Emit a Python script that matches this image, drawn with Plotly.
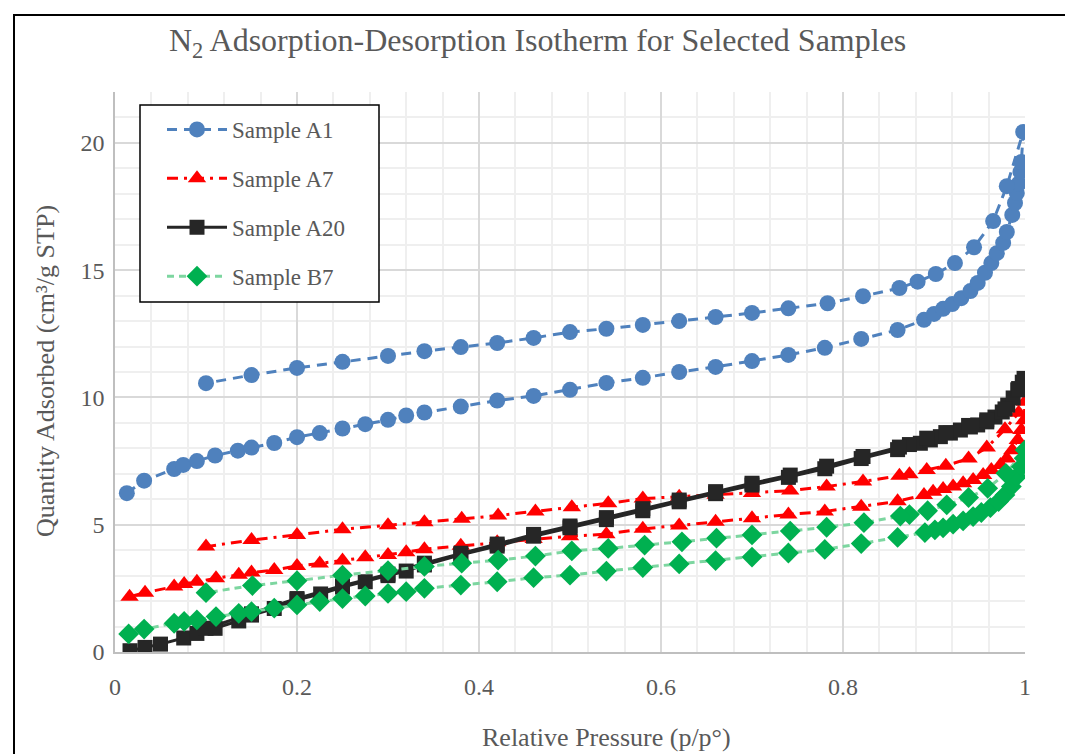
import plotly.graph_objects as go

# ---------------- data ----------------
a1_ads_x = [0.013, 0.032, 0.065, 0.075, 0.09, 0.11, 0.135, 0.15, 0.175, 0.2, 0.225, 0.25, 0.275, 0.3, 0.32, 0.34,
            0.38, 0.42, 0.46, 0.5, 0.54, 0.58, 0.62, 0.66, 0.7, 0.74, 0.78, 0.82, 0.86, 0.889, 0.9, 0.91, 0.92,
            0.93, 0.94, 0.948, 0.956, 0.963, 0.969, 0.976, 0.98, 0.986, 0.989, 0.991, 0.993, 0.995, 0.996, 0.998]
a1_ads_y = [6.24, 6.73, 7.19, 7.35, 7.5, 7.72, 7.91, 8.03, 8.21, 8.44, 8.6, 8.78, 8.95, 9.12, 9.29, 9.41,
            9.64, 9.88, 10.06, 10.3, 10.57, 10.77, 11.0, 11.2, 11.43, 11.67, 11.95, 12.3, 12.65, 13.05, 13.28, 13.48, 13.67,
            13.9, 14.18, 14.5, 14.9, 15.28, 15.67, 16.07, 16.5, 17.17, 17.64, 18.03, 18.4, 18.86, 19.25, 20.43]
a1_des_x = [0.98, 0.965, 0.944, 0.923, 0.902, 0.882, 0.862, 0.822, 0.783, 0.74, 0.7, 0.66, 0.62, 0.58, 0.54,
            0.5, 0.46, 0.42, 0.38, 0.34, 0.3, 0.25, 0.2, 0.15, 0.1]
a1_des_y = [18.3, 16.93, 15.9, 15.28, 14.85, 14.55, 14.3, 13.98, 13.7, 13.5, 13.32, 13.16, 13.0, 12.85, 12.7,
            12.57, 12.34, 12.14, 11.98, 11.82, 11.63, 11.4, 11.16, 10.88, 10.56]

a7_ads_x = [0.016, 0.033, 0.065, 0.076, 0.09, 0.111, 0.136, 0.15, 0.175, 0.2, 0.225, 0.25, 0.275, 0.3, 0.32, 0.34,
            0.38, 0.42, 0.46, 0.5, 0.54, 0.58, 0.62, 0.66, 0.7, 0.74, 0.78, 0.82, 0.86, 0.889, 0.899, 0.91, 0.921,
            0.932, 0.943, 0.954, 0.963, 0.973, 0.98, 0.986, 0.992, 0.996, 0.999, 1.0]
a7_ads_y = [2.17, 2.33, 2.57, 2.67, 2.76, 2.9, 3.03, 3.12, 3.22, 3.38, 3.48, 3.59, 3.72, 3.81, 3.92, 4.04,
            4.17, 4.31, 4.44, 4.55, 4.63, 4.84, 4.97, 5.12, 5.25, 5.4, 5.52, 5.71, 5.92, 6.17, 6.3, 6.4, 6.5,
            6.63, 6.76, 6.95, 7.15, 7.35, 7.6, 7.93, 8.33, 8.72, 9.1, 9.83]
a7_des_x = [0.993, 0.978, 0.958, 0.938, 0.913, 0.892, 0.873, 0.862, 0.822, 0.782, 0.742, 0.7, 0.66, 0.62, 0.58,
            0.542, 0.502, 0.462, 0.421, 0.381, 0.34, 0.3, 0.25, 0.2, 0.15, 0.1]
a7_des_y = [9.4, 8.75, 8.03, 7.6, 7.32, 7.15, 6.98, 6.92, 6.7, 6.5, 6.34, 6.25, 6.18, 6.1, 6.03,
            5.84, 5.69, 5.52, 5.36, 5.23, 5.1, 4.98, 4.82, 4.6, 4.4, 4.14]

a20_ads_x = [0.0165, 0.033, 0.05, 0.0755, 0.09, 0.11, 0.136, 0.15, 0.175, 0.2, 0.226, 0.25, 0.275, 0.3, 0.32, 0.34,
             0.38, 0.42, 0.46, 0.5, 0.54, 0.58, 0.62, 0.66, 0.7, 0.74, 0.78, 0.82, 0.86, 0.885, 0.896, 0.907,
             0.918, 0.929, 0.94, 0.948, 0.958, 0.967, 0.975, 0.981, 0.987, 0.992, 0.997, 0.999]
a20_ads_y = [0.05, 0.18, 0.31, 0.55, 0.73, 0.93, 1.22, 1.45, 1.71, 2.05, 2.28, 2.55, 2.76, 3.0, 3.18, 3.42,
             3.82, 4.16, 4.55, 4.88, 5.2, 5.55, 5.9, 6.22, 6.56, 6.86, 7.2, 7.6, 7.95, 8.2, 8.33, 8.46,
             8.6, 8.72, 8.84, 8.92, 9.04, 9.23, 9.43, 9.7, 9.98, 10.3, 10.6, 10.75]
a20_des_x = [0.993, 0.978, 0.958, 0.938, 0.913, 0.892, 0.873, 0.862, 0.822, 0.782, 0.742, 0.7, 0.66, 0.62, 0.58,
             0.54, 0.5, 0.46, 0.42, 0.38, 0.34, 0.3, 0.25, 0.2, 0.15, 0.1]
a20_des_y = [10.35, 9.55, 9.12, 8.9, 8.62, 8.4, 8.15, 8.05, 7.68, 7.3, 6.95, 6.63, 6.3, 5.97, 5.63,
             5.28, 4.95, 4.62, 4.24, 3.88, 3.49, 3.06, 2.6, 2.1, 1.5, 0.93]

b7_ads_x = [0.015, 0.032, 0.065, 0.076, 0.09, 0.111, 0.136, 0.15, 0.175, 0.2, 0.225, 0.25, 0.275, 0.3, 0.32, 0.34,
            0.38, 0.42, 0.46, 0.5, 0.54, 0.58, 0.62, 0.66, 0.7, 0.74, 0.78, 0.82, 0.86, 0.89, 0.901, 0.91, 0.921,
            0.932, 0.943, 0.952, 0.962, 0.971, 0.978, 0.985, 0.991, 0.996, 0.999, 1.0]
b7_ads_y = [0.71, 0.9, 1.13, 1.2, 1.26, 1.39, 1.52, 1.59, 1.72, 1.85, 1.98, 2.1, 2.2, 2.3, 2.37, 2.5,
            2.63, 2.76, 2.92, 3.02, 3.18, 3.32, 3.46, 3.59, 3.73, 3.89, 4.03, 4.26, 4.5, 4.69, 4.8, 4.88, 5.02,
            5.15, 5.32, 5.48, 5.67, 5.91, 6.17, 6.5, 6.89, 7.28, 7.61, 7.94]
b7_des_x = [0.979, 0.959, 0.938, 0.914, 0.893, 0.873, 0.863, 0.823, 0.782, 0.742, 0.7, 0.661, 0.623, 0.582,
            0.542, 0.502, 0.462, 0.421, 0.381, 0.34, 0.3, 0.25, 0.2, 0.151, 0.1]
b7_des_y = [7.02, 6.43, 6.07, 5.78, 5.55, 5.4, 5.34, 5.08, 4.9, 4.75, 4.6, 4.47, 4.33, 4.2,
            4.07, 3.97, 3.77, 3.61, 3.49, 3.36, 3.2, 3.02, 2.8, 2.61, 2.33]

names = ["Sample A1", "Sample A7", "Sample A20", "Sample B7"]
title_text = "N<sub>2</sub> Adsorption-Desorption Isotherm for Selected Samples"
x_title = "Relative Pressure (p/p°)"
y_title = "Quantity Adsorbed (cm³/g STP)"

# ---------------- styles ----------------
styles = [
    dict(line=dict(color="#4F81BD", width=3, dash="10px,7px"),
         marker=dict(symbol="circle", size=16, color="#4F81BD")),
    dict(line=dict(color="#FF0000", width=3, dash="11px,6px,3px,6px"),
         marker=dict(symbol="triangle-up", size=16, color="#FF0000")),
    dict(line=dict(color="#262626", width=3, dash="solid"),
         marker=dict(symbol="square", size=15, color="#262626")),
    dict(line=dict(color="#7DD6A0", width=3, dash="7px,5px"),
         marker=dict(symbol="diamond", size=16, color="#00B050")),
]
series = [
    (a1_ads_x + a1_des_x, a1_ads_y + a1_des_y),
    (a7_ads_x + a7_des_x, a7_ads_y + a7_des_y),
    (a20_ads_x + a20_des_x, a20_ads_y + a20_des_y),
    (b7_ads_x + b7_des_x, b7_ads_y + b7_des_y),
]

fig = go.Figure()
for i, (nm, (xs, ys), st) in enumerate(zip(names, series, styles)):
    fig.add_trace(go.Scatter(x=xs, y=ys, mode="lines+markers", name=nm,
                             line=st["line"], marker=st["marker"], legendgroup=f"g{i}"))

W, H = 1065, 754
L, R, T, B = 115, 40, 92, 102
pw, ph = W - L - R, H - T - B


def px(xp):
    return (xp - L) / pw


def py(yp):
    return (H - B - yp) / ph


font = "Liberation Serif"
grey = "#595959"

fig.update_layout(
    width=W, height=H,
    margin=dict(l=L, r=R, t=T, b=B),
    paper_bgcolor="white", plot_bgcolor="white",
    font=dict(family=font, color=grey, size=23),
    showlegend=True,
    legend=dict(x=px(162), y=py(108), xanchor="left", yanchor="top",
                bgcolor="rgba(0,0,0,0)", borderwidth=0,
                font=dict(family=font, size=23, color=grey),
                tracegroupgap=16, itemwidth=60),
    xaxis=dict(range=[0, 1], dtick=0.2, tick0=0, showgrid=True, gridcolor="#D9D9D9", gridwidth=1.5,
               minor=dict(dtick=0.04, showgrid=True, gridcolor="#EFEFEF", gridwidth=1.5),
               showline=True, linecolor="#BFBFBF", linewidth=1.5, zeroline=False, ticks="",
               tickfont=dict(family=font, size=24, color=grey), ticklabelstandoff=12),
    yaxis=dict(range=[0, 22], dtick=5, tick0=0, showgrid=True, gridcolor="#D9D9D9", gridwidth=1.5,
               minor=dict(dtick=1, showgrid=True, gridcolor="#EFEFEF", gridwidth=1.5),
               showline=True, linecolor="#BFBFBF", linewidth=1.5, zeroline=False, ticks="",
               tickfont=dict(family=font, size=24, color=grey), ticklabelstandoff=4),
    shapes=[
        dict(type="rect", xref="paper", yref="paper", x0=px(14), x1=px(1075), y0=py(790), y1=py(15),
             line=dict(color="black", width=2), fillcolor="rgba(0,0,0,0)", layer="below"),
        dict(type="rect", xref="paper", yref="paper", x0=px(140), x1=px(379), y0=py(302), y1=py(105),
             line=dict(color="black", width=1.5), fillcolor="white", layer="above"),
    ],
    annotations=[
        dict(text=title_text, xref="paper", yref="paper", x=px(537), y=py(42), showarrow=False,
             xanchor="center", yanchor="middle", font=dict(family=font, size=32, color=grey)),
        dict(text=x_title, xref="paper", yref="paper", x=px(606), y=py(737), showarrow=False,
             xanchor="center", yanchor="middle", font=dict(family=font, size=26, color=grey)),
        dict(text=y_title, xref="paper", yref="paper", x=px(45), y=py(371), showarrow=False,
             textangle=-90, xanchor="center", yanchor="middle", font=dict(family=font, size=26, color=grey)),
    ],
)

fig.write_html("out.html")
